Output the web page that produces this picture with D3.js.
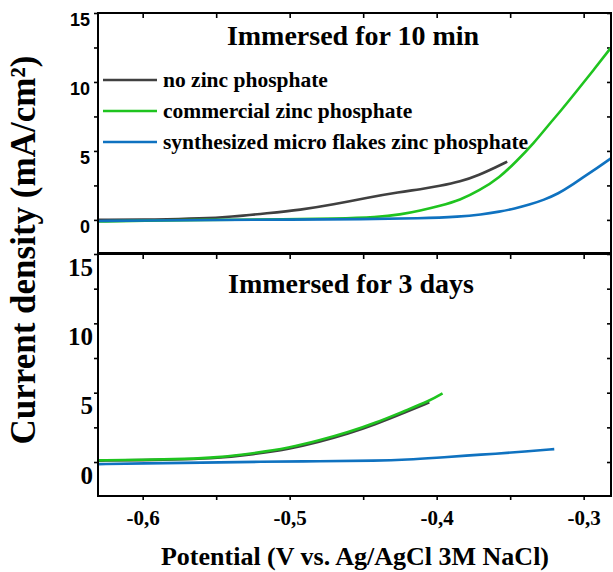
<!DOCTYPE html>
<html>
<head>
<meta charset="utf-8">
<script src="https://cdn.jsdelivr.net/npm/d3@7"></script>
<style>
  body { margin: 0; background: #fff; }
</style>
</head>
<body>
<div id="chart-area"></div>
<script>
// polarisation curves, [potential V, current density mA/cm2]
const noZinc10 = [[-0.630,0.00],[-0.590,0.02],[-0.560,0.10],[-0.540,0.23],[-0.515,0.48],[-0.493,0.72],[-0.470,1.12],[-0.448,1.60],[-0.425,2.02],[-0.411,2.22],[-0.398,2.46],[-0.384,2.77],[-0.371,3.26],[-0.359,3.86],[-0.352,4.22]];
const commercial10 = [[-0.630,-0.12],[-0.600,-0.05],[-0.560,0.00],[-0.500,0.04],[-0.470,0.09],[-0.440,0.20],[-0.425,0.38],[-0.411,0.68],[-0.398,1.01],[-0.384,1.44],[-0.371,2.12],[-0.357,3.09],[-0.346,4.22],[-0.334,5.55],[-0.323,7.00],[-0.316,7.85],[-0.305,9.30],[-0.293,10.90],[-0.281,12.55]];
const synth10 = [[-0.630,-0.08],[-0.600,-0.04],[-0.550,0.00],[-0.500,0.02],[-0.450,0.05],[-0.411,0.11],[-0.384,0.23],[-0.370,0.38],[-0.357,0.60],[-0.347,0.82],[-0.337,1.10],[-0.327,1.45],[-0.317,1.92],[-0.309,2.45],[-0.301,3.05],[-0.291,3.75],[-0.281,4.50]];

const noZinc3d = [[-0.630,0.10],[-0.600,0.13],[-0.570,0.20],[-0.550,0.28],[-0.525,0.55],[-0.500,0.95],[-0.480,1.45],[-0.460,2.05],[-0.442,2.70],[-0.421,3.60],[-0.405,4.30]];
const commercial3d = [[-0.630,0.12],[-0.600,0.16],[-0.570,0.22],[-0.550,0.32],[-0.525,0.62],[-0.500,1.02],[-0.480,1.55],[-0.460,2.15],[-0.442,2.80],[-0.421,3.72],[-0.405,4.40],[-0.396,4.95]];
const synth3d = [[-0.630,-0.15],[-0.600,-0.10],[-0.560,-0.04],[-0.520,0.02],[-0.480,0.06],[-0.440,0.09],[-0.420,0.17],[-0.400,0.31],[-0.380,0.46],[-0.360,0.60],[-0.340,0.75],[-0.320,0.93]];

const seriesNames = ["no zinc phosphate", "commercial zinc phosphate", "synthesized micro flakes zinc phosphate"];
const seriesColors = ["#404040", "#1fc41f", "#0f72c0"];
const panelTitles = ["Immersed for 10 min", "Immersed for 3 days"];
const xMajorTicks = [-0.6, -0.5, -0.4, -0.3];
const xAllTicks = [-0.6, -0.55, -0.5, -0.45, -0.4, -0.35, -0.3];
const yTicks = [0, 2.5, 5, 7.5, 10, 12.5, 15];

const width = 613;
const height = 572;
const serif = "'Liberation Serif', 'Times New Roman', serif";
const sans = "'Liberation Sans', Arial, sans-serif";

const svg = d3.select("#chart-area")
    .append("svg")
        .attr("width", width)
        .attr("height", height)
        .style("display", "block");

const x = d3.scaleLinear().domain([-0.6304, -0.2814]).range([98, 611]);

const fmt = d3.formatLocale({decimal: ",", thousands: ".", grouping: [3], currency: ["", ""], minus: "-"}).format(".1f");

const line = (y) => d3.line()
    .x((d) => x(d[0]))
    .y((d) => y(d[1]))
    .curve(d3.curveBasis);

function styleAxis(sel) {
    sel.select(".domain").remove();
    sel.selectAll(".tick line").attr("stroke", "#000").attr("stroke-width", 1.6);
}

function drawPanel(p) {
    const y = d3.scaleLinear().domain(p.yDomain).range([p.bottom, p.top]);
    const g = svg.append("g");

    g.append("clipPath").attr("id", "clip" + p.id)
        .append("rect")
            .attr("x", x.range()[0]).attr("y", p.top)
            .attr("width", x.range()[1] - x.range()[0])
            .attr("height", p.bottom - p.top);

    // left axis, outward ticks
    const left = g.append("g")
        .attr("transform", "translate(" + x.range()[0] + ",0)")
        .call(d3.axisLeft(y).tickValues(yTicks).tickSize(4).tickPadding(p.labelPad)
            .tickFormat((d) => d % 5 === 0 ? d : ""));
    styleAxis(left);
    left.selectAll("text")
        .attr("y", p.labelShift)
        .attr("font-family", p.yFont)
        .attr("font-weight", "bold")
        .attr("font-size", p.yFontSize)
        .attr("fill", "#000");

    // right axis, inward ticks
    styleAxis(g.append("g")
        .attr("transform", "translate(" + x.range()[1] + ",0)")
        .call(d3.axisRight(y).tickValues(yTicks).tickSize(-4).tickFormat("")));

    // top axis, inward ticks
    styleAxis(g.append("g")
        .attr("transform", "translate(0," + p.top + ")")
        .call(d3.axisTop(x).tickValues(xAllTicks).tickSize(-5).tickFormat("")));

    if (p.xLabels) {
        const bottom = g.append("g")
            .attr("transform", "translate(0," + p.bottom + ")")
            .call(d3.axisBottom(x).tickValues(xAllTicks).tickSize(4)
                .tickFormat((d) => xMajorTicks.some((t) => Math.abs(t - d) < 1e-9) ? fmt(d) : ""));
        styleAxis(bottom);
        bottom.selectAll("text")
            .attr("y", 29)
            .attr("dy", 0)
            .attr("font-family", serif)
            .attr("font-weight", "bold")
            .attr("font-size", "21px")
            .attr("fill", "#000");
    }

    const curves = g.append("g").attr("clip-path", "url(#clip" + p.id + ")");
    p.order.forEach((i) => {
        curves.append("path")
            .datum(p.series[i])
            .attr("fill", "none")
            .attr("stroke", seriesColors[i])
            .attr("stroke-width", 2.6)
            .attr("d", line(y));
    });

    g.append("rect")
        .attr("x", x.range()[0]).attr("y", p.top)
        .attr("width", x.range()[1] - x.range()[0])
        .attr("height", p.bottom - p.top)
        .attr("fill", "none")
        .attr("stroke", "#000")
        .attr("stroke-width", 2);

    g.append("text")
        .attr("x", p.titleX)
        .attr("y", p.titleY)
        .attr("text-anchor", "middle")
        .attr("font-family", serif)
        .attr("font-weight", "bold")
        .attr("font-size", "28px")
        .text(p.title);
}

drawPanel({
    id: 0, top: 13, bottom: 253, yDomain: [-2.4, 15],
    series: [noZinc10, commercial10, synth10], order: [0, 1, 2],
    yFont: sans, yFontSize: "18px", labelShift: 7, labelPad: 4,
    title: panelTitles[0], titleX: 353, titleY: 45, xLabels: false
});

drawPanel({
    id: 1, top: 254, bottom: 496, yDomain: [-2.45, 15],
    series: [noZinc3d, commercial3d, synth3d], order: [2, 0, 1],
    yFont: serif, yFontSize: "25px", labelShift: 13, labelPad: 1,
    title: panelTitles[1], titleX: 351, titleY: 293, xLabels: true
});

// legend
const legend = svg.append("g");
seriesNames.forEach((name, i) => {
    const ly = 80 + i * 31;
    legend.append("line")
        .attr("x1", 103).attr("x2", 157)
        .attr("y1", ly).attr("y2", ly)
        .attr("stroke", seriesColors[i])
        .attr("stroke-width", 2.6);
    legend.append("text")
        .attr("x", 163)
        .attr("y", ly + 7)
        .attr("font-family", serif)
        .attr("font-weight", "bold")
        .attr("font-size", "21.5px")
        .text(name);
});

// axis labels
svg.append("text")
    .attr("x", 355)
    .attr("y", 565)
    .attr("text-anchor", "middle")
    .attr("font-family", serif)
    .attr("font-weight", "bold")
    .attr("font-size", "26px")
    .text("Potential (V vs. Ag/AgCl 3M NaCl)");

svg.append("text")
    .attr("transform", "translate(35,250) rotate(-90)")
    .attr("text-anchor", "middle")
    .attr("font-family", serif)
    .attr("font-weight", "bold")
    .attr("font-size", "35px")
    .text("Current density (mA/cm²)");
</script>
</body>
</html>
